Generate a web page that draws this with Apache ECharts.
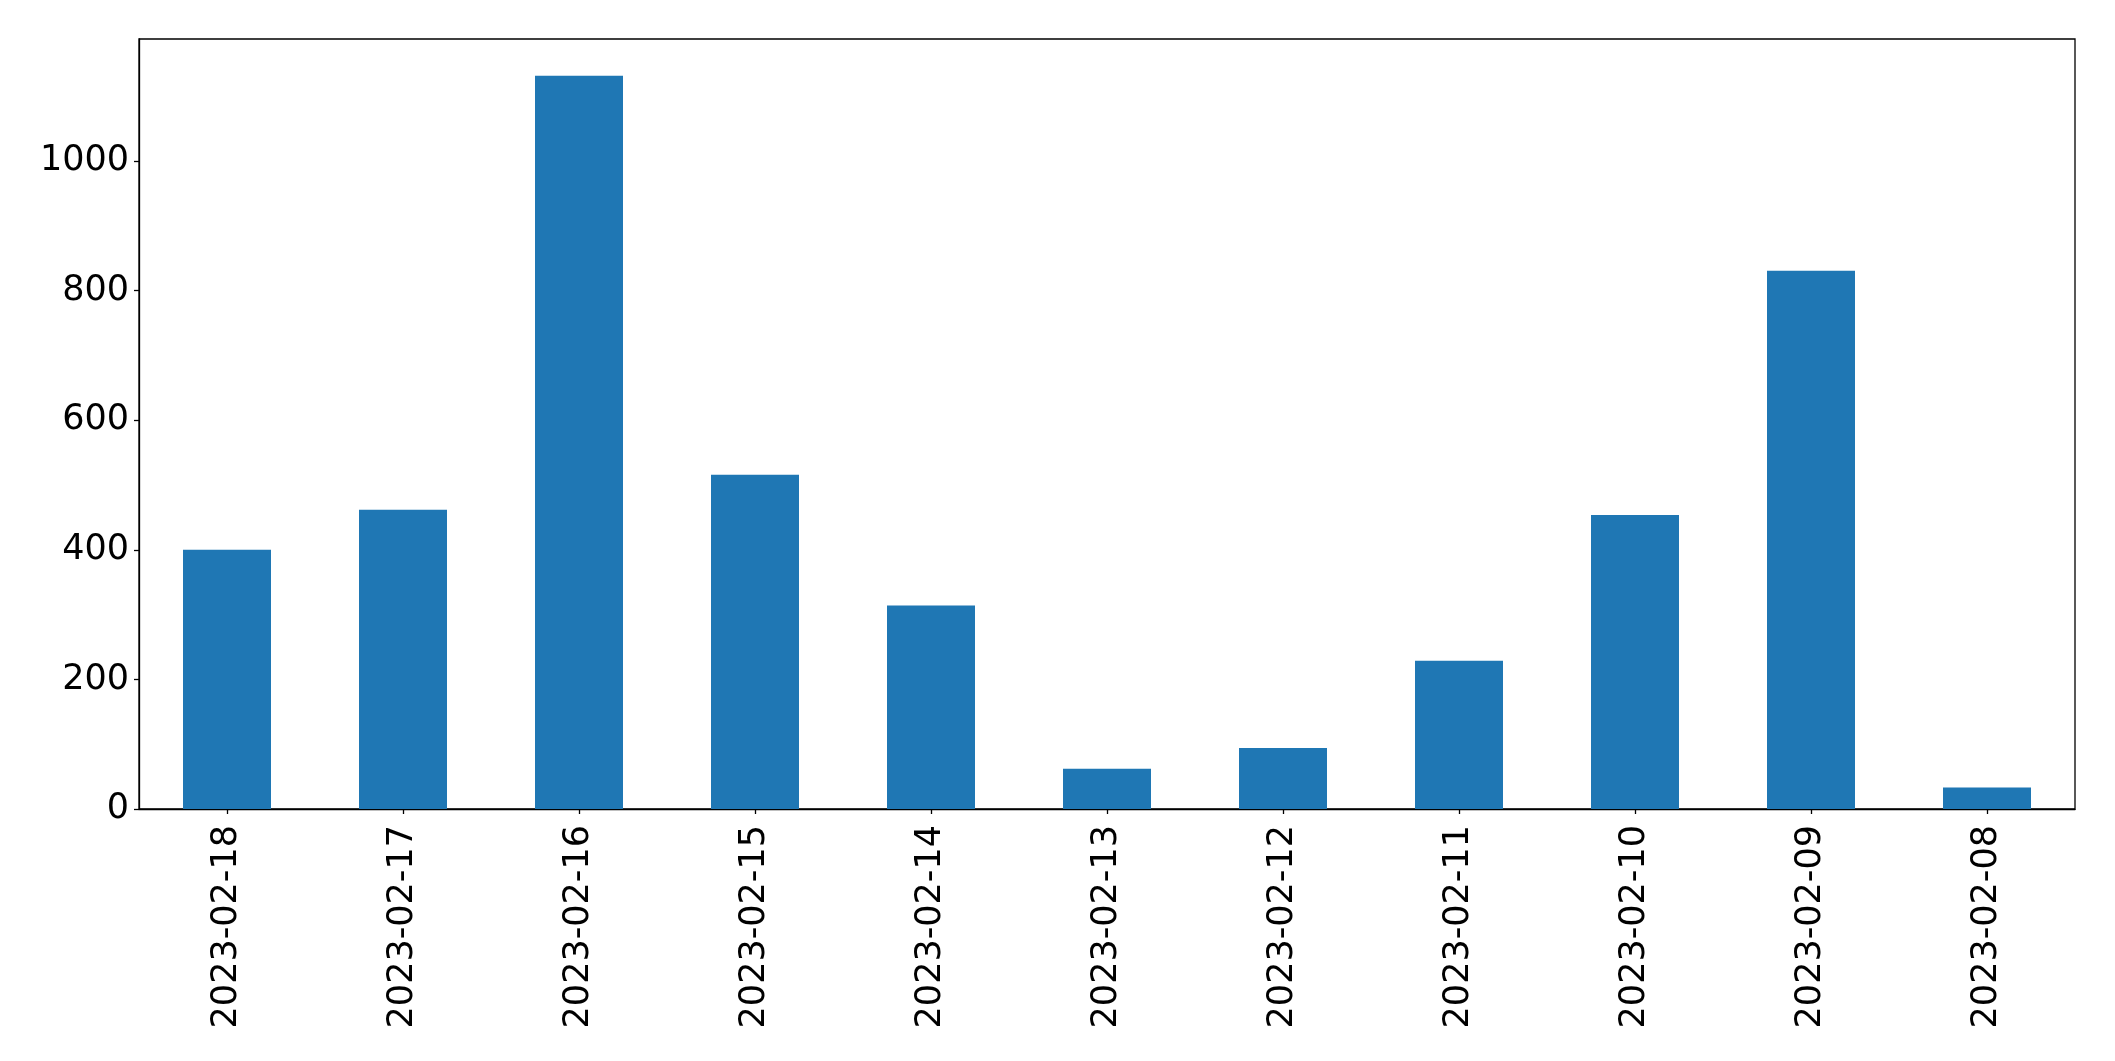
<!DOCTYPE html>
<html>
<head>
<meta charset="utf-8">
<script src="https://cdn.jsdelivr.net/npm/echarts@6/dist/echarts.min.js"></script>
<style>
  html, body { margin: 0; padding: 0; background: #ffffff; }
  #chart { width: 2115px; height: 1061px; }
</style>
</head>
<body>
<div id="chart"></div>
<script>
// ---- data ----
const categories = ['2023-02-18', '2023-02-17', '2023-02-16', '2023-02-15', '2023-02-14', '2023-02-13', '2023-02-12', '2023-02-11', '2023-02-10', '2023-02-09', '2023-02-08'];
const values = [400, 462, 1132, 516, 314, 62, 94, 229, 454, 831, 33];
const yTicks = [0, 200, 400, 600, 800, 1000];
const yMax = 1188.6;

const chart = echarts.init(document.getElementById('chart'), null, { renderer: 'canvas' });
const font = 'DejaVu Sans';

chart.setOption({
  backgroundColor: '#ffffff',
  animation: false,
  grid: {
    left: 139, right: 40, top: 39, bottom: 252,
    show: true, borderColor: '#000000', borderWidth: 1.3, backgroundColor: 'transparent'
  },
  xAxis: {
    type: 'category',
    data: categories,
    boundaryGap: true,
    axisLine: { show: true, lineStyle: { color: '#000000', width: 1.3 } },
    axisTick: { show: true, alignWithLabel: true, length: 5, lineStyle: { color: '#000000', width: 1.3 } },
    axisLabel: { rotate: 90, margin: 16, color: '#000000', fontFamily: font, fontSize: 35, interval: 0 },
    splitLine: { show: false }
  },
  yAxis: {
    type: 'value',
    min: 0, max: yMax, interval: 200,
    axisLine: { show: true, lineStyle: { color: '#000000', width: 1.3 } },
    axisTick: { show: true, length: 5, lineStyle: { color: '#000000', width: 1.3 } },
    axisLabel: {
      margin: 10, color: '#000000', fontFamily: font, fontSize: 35, showMaxLabel: false,
      padding: [8, 0, 0, 0],
      formatter: v => (yTicks.indexOf(v) >= 0 ? String(v) : '')
    },
    splitLine: { show: false }
  },
  series: [{
    type: 'bar',
    data: values,
    barWidth: '50%',
    itemStyle: { color: '#1f77b4' }
  }]
});
</script>
</body>
</html>
